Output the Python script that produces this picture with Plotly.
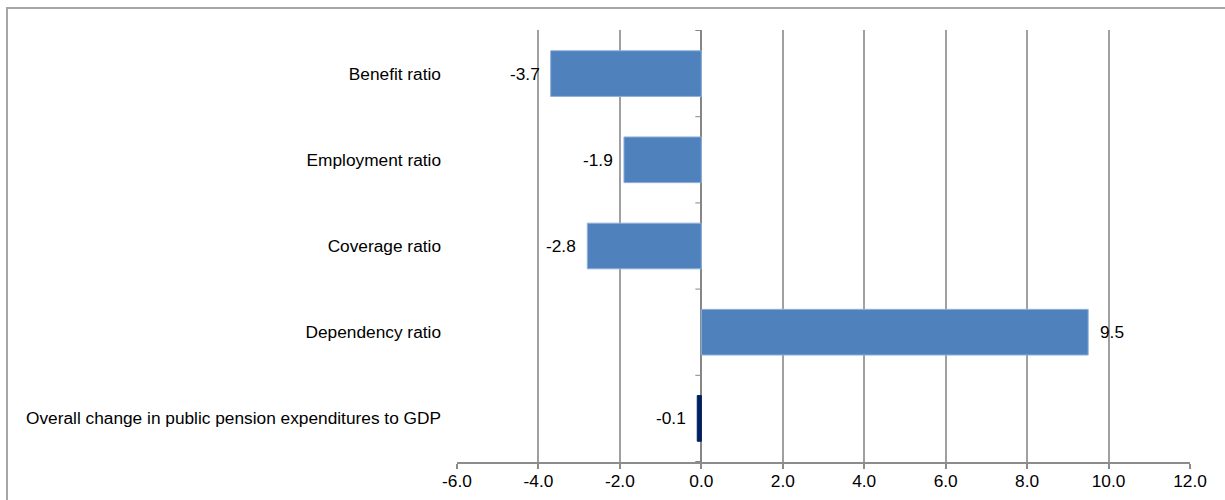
import plotly.graph_objects as go

categories = [
    "Benefit ratio",
    "Employment ratio",
    "Coverage ratio",
    "Dependency ratio",
    "Overall change in public pension expenditures to GDP",
]
values = [-3.7, -1.9, -2.8, 9.5, -0.1]
bar_colors = ["#4F81BD", "#4F81BD", "#4F81BD", "#4F81BD", "#002060"]
line_colors = ["#8EB1DC", "#8EB1DC", "#8EB1DC", "#8EB1DC", "#002060"]
x_ticks = [-6, -4, -2, 0, 2, 4, 6, 8, 10, 12]
x_tick_labels = ["-6.0", "-4.0", "-2.0", "0.0", "2.0", "4.0", "6.0", "8.0", "10.0", "12.0"]

W, H = 1225, 500
ML, MR, MT, MB = 457, 35, 30, 38
FONT = "Liberation Sans, Arial, sans-serif"
FS = 17.3

fig = go.Figure()
fig.add_trace(go.Bar(
    x=values, y=categories, orientation="h",
    marker=dict(color=bar_colors, line=dict(color=line_colors, width=1)),
    width=0.53, hoverinfo="skip", showlegend=False,
))

annotations = []
for c, v in zip(categories, values):
    annotations.append(dict(
        x=v, y=c, xref="x", yref="y", text=f"{v:.1f}", showarrow=False,
        xanchor="right" if v < 0 else "left", yanchor="middle",
        xshift=-9 if v < 0 else 10,
        font=dict(family=FONT, size=FS, color="#000000"),
    ))

pw = W - ML - MR
ph = H - MT - MB
def px_x(p):
    return (p - ML) / pw
def px_y(p):
    return (H - MB - p) / ph

shapes = [dict(
    type="rect", xref="paper", yref="paper",
    x0=px_x(7), x1=px_x(1240), y0=px_y(515), y1=px_y(8),
    line=dict(color="#A6A6A6", width=2), fillcolor="rgba(0,0,0,0)", layer="below",
)]
n = len(categories)
for i in range(n + 1):
    shapes.append(dict(
        type="line", xref="x", yref="y", xsizemode="pixel", xanchor=0,
        x0=-6, x1=0, y0=i - 0.5, y1=i - 0.5,
        line=dict(color="#868686", width=1),
    ))

fig.update_layout(
    width=W, height=H,
    margin=dict(l=ML, r=MR, t=MT, b=MB, pad=0, autoexpand=False),
    paper_bgcolor="white", plot_bgcolor="white",
    font=dict(family=FONT, size=FS, color="#000000"),
    bargap=0.47,
    annotations=annotations,
    shapes=shapes,
    xaxis=dict(
        range=[-6, 12], tickvals=x_ticks, ticktext=x_tick_labels,
        showgrid=True, gridcolor="#A0A0A0", gridwidth=1.5,
        zeroline=True, zerolinecolor="#868686", zerolinewidth=2,
        showline=True, linecolor="#8C8C8C", linewidth=2,
        ticks="outside", ticklen=5, tickcolor="#8C8C8C", tickwidth=1.5,
        ticklabelstandoff=-3, automargin=False,
        tickfont=dict(family=FONT, size=FS, color="#000000"),
        fixedrange=True,
    ),
    yaxis=dict(
        categoryorder="array", categoryarray=categories[::-1],
        showgrid=False, zeroline=False, showline=False,
        ticks="", ticklabelstandoff=15, automargin=False,
        tickfont=dict(family=FONT, size=FS, color="#000000"),
        fixedrange=True,
    ),
)

fig.write_html("out.html")
